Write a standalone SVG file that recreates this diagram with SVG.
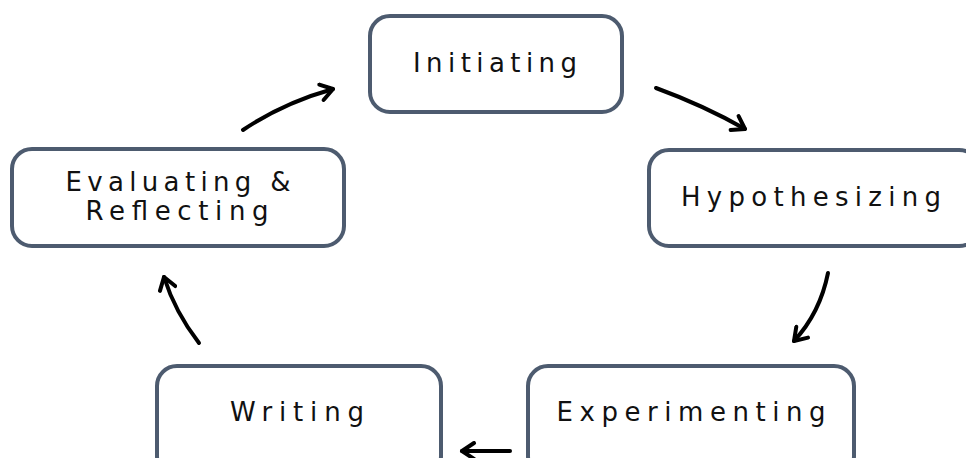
<svg xmlns="http://www.w3.org/2000/svg" width="966" height="458" viewBox="0 0 966 458">
<style>
.box{fill:#ffffff;stroke:#4d5b6f;stroke-width:4}
.lbl{font-family:"DejaVu Sans",Verdana,sans-serif;font-size:26px;fill:#111;text-anchor:middle}
.arr{fill:none;stroke:#000;stroke-width:4;stroke-linecap:round;marker-end:url(#hd)}
</style>
<defs>
<marker id="hd" viewBox="0 0 20 20" refX="16" refY="10" markerWidth="20" markerHeight="20" markerUnits="userSpaceOnUse" orient="auto">
<path d="M4 2 L16 10 L4 18" fill="none" stroke="#000" stroke-width="4" stroke-linecap="round" stroke-linejoin="round"/>
</marker>
</defs>
<rect width="966" height="458" fill="#ffffff"/>
<g id="initiating">
<rect class="box" x="370" y="16" width="252" height="96" rx="20"/>
<text class="lbl" x="495" y="72" textLength="164" lengthAdjust="spacing">Initiating</text>
</g>
<g id="hypothesizing">
<rect class="box" x="649" y="150" width="330" height="96" rx="20"/>
<text class="lbl" x="811" y="206" textLength="260" lengthAdjust="spacing">Hypothesizing</text>
</g>
<g id="experimenting">
<rect class="box" x="528" y="366" width="326" height="110" rx="20"/>
<text class="lbl" x="691" y="421" textLength="269" lengthAdjust="spacing">Experimenting</text>
</g>
<g id="writing">
<rect class="box" x="157" y="366" width="284" height="110" rx="20"/>
<text class="lbl" x="297" y="421" textLength="134" lengthAdjust="spacing">Writing</text>
</g>
<g id="evaluating">
<rect class="box" x="12" y="149" width="332" height="97" rx="20"/>
<text class="lbl" x="178" y="191" font-size="23" textLength="225" lengthAdjust="spacing">Evaluating &amp;</text>
<text class="lbl" x="177" y="220" font-size="23" textLength="183" lengthAdjust="spacing">Reflecting</text>
</g>
<g id="connectors">
<path class="arr" d="M656 88 Q705 106 745 129"/>
<path class="arr" d="M828 273 Q820 313 794 341"/>
<path class="arr" d="M510 451 L462 451"/>
<path class="arr" d="M199 343 Q175 312 164 277"/>
<path class="arr" d="M243 130 Q283 103 333 89"/>
</g>
</svg>
